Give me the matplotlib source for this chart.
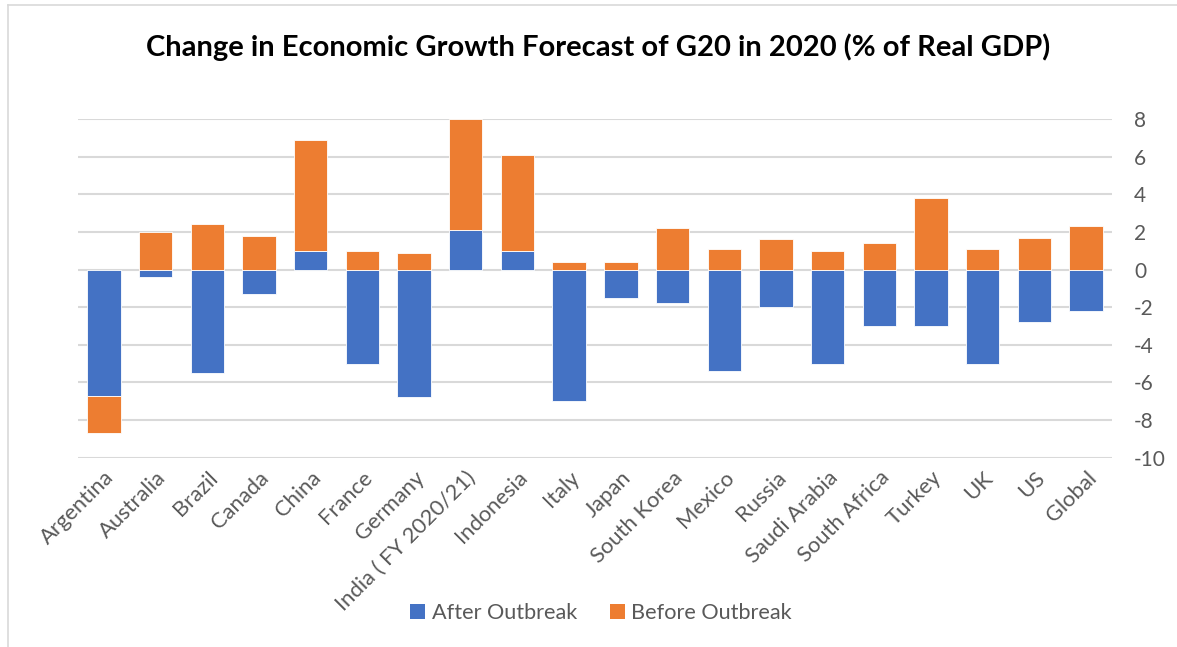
import matplotlib
matplotlib.use("Agg")
import matplotlib.pyplot as plt
import numpy as np
from matplotlib.patches import Patch
from matplotlib.lines import Line2D

categories = ["Argentina", "Australia", "Brazil", "Canada", "China", "France", "Germany",
              "India ( FY 2020/21)", "Indonesia", "Italy", "Japan", "South Korea", "Mexico",
              "Russia", "Saudi Arabia", "South Africa", "Turkey", "UK", "US", "Global"]
after_outbreak = [-6.7, -0.4, -5.5, -1.3, 1.0, -5.0, -6.8, 2.1, 1.0, -7.0, -1.5, -1.8,
                  -5.4, -2.0, -5.0, -3.0, -3.0, -5.0, -2.8, -2.2]
before_outbreak = [-2.0, 2.0, 2.4, 1.8, 5.9, 1.0, 0.9, 5.9, 5.1, 0.4, 0.4, 2.2,
                   1.1, 1.6, 1.0, 1.4, 3.8, 1.1, 1.7, 2.3]
yticks = [8, 6, 4, 2, 0, -2, -4, -6, -8, -10]
ytick_labels = ["8", "6", "4", "2", "0", "-2", "-4", "-6", "-8", "-10"]

BLUE = "#4472C4"
ORANGE = "#ED7D31"
GRAY = "#595959"
FONT = "Lato"

plt.rcParams['font.family'] = [FONT, 'DejaVu Sans']

fig = plt.figure(figsize=(11.77, 6.47), dpi=100)
ax = fig.add_axes([78 / 1177, 1 - 457.7 / 647, (1112 - 78) / 1177, (457.7 - 119) / 647])

a = np.array(after_outbreak)
b = np.array(before_outbreak)
x = np.arange(len(categories))
# Excel-style stacking: positives stack on positives, negatives on negatives
b_bottom = np.where((b >= 0) == (a >= 0), a, 0.0)
ax.bar(x, a, width=0.646, color=BLUE, edgecolor="white", linewidth=0.6, zorder=3)
ax.bar(x, b, bottom=b_bottom, width=0.646, color=ORANGE, edgecolor="white", linewidth=0.6, zorder=3)

ax.set_xlim(-0.5, len(categories) - 0.5)
ax.set_ylim(-10, 8)
ax.set_yticks(yticks)
ax.set_yticklabels(ytick_labels)
ax.yaxis.tick_right()
ax.tick_params(axis='y', length=0, pad=16, labelsize=15, labelcolor=GRAY)
ax.tick_params(axis='x', length=0, pad=7)
for t in ax.get_yticklabels():
    t.set_horizontalalignment('left')
ax.grid(axis='y', color="#D9D9D9", linewidth=1.5, zorder=0)
for s in ax.spines.values():
    s.set_visible(False)

ax.set_xticks(x)
ax.set_xticklabels(categories, rotation=45, ha='right', va='top', rotation_mode='anchor',
                   fontsize=15.8, color=GRAY)

fig.text(598 / 1177, 1 - 47 / 647, "Change in Economic Growth Forecast of G20 in 2020 (% of Real GDP)",
         ha='center', va='center', fontsize=21, fontweight='bold', color='black')

handles = [Patch(facecolor=BLUE), Patch(facecolor=ORANGE)]
fig.legend(handles, ["After Outbreak", "Before Outbreak"], loc='center',
           bbox_to_anchor=(601 / 1177, 1 - 613 / 647), ncol=2, frameon=False,
           fontsize=15.6, labelcolor=GRAY, handlelength=0.7, handleheight=0.7,
           handletextpad=0.3, columnspacing=1.5)

# chart-area border (left and top)
fig.add_artist(Line2D([8 / 1177, 8 / 1177], [0, 1 - 5 / 647], color="#D9D9D9", linewidth=1.2))
fig.add_artist(Line2D([8 / 1177, 1], [1 - 5 / 647, 1 - 5 / 647], color="#D9D9D9", linewidth=1.2))

fig.savefig("out.png", dpi=100, facecolor="white")
